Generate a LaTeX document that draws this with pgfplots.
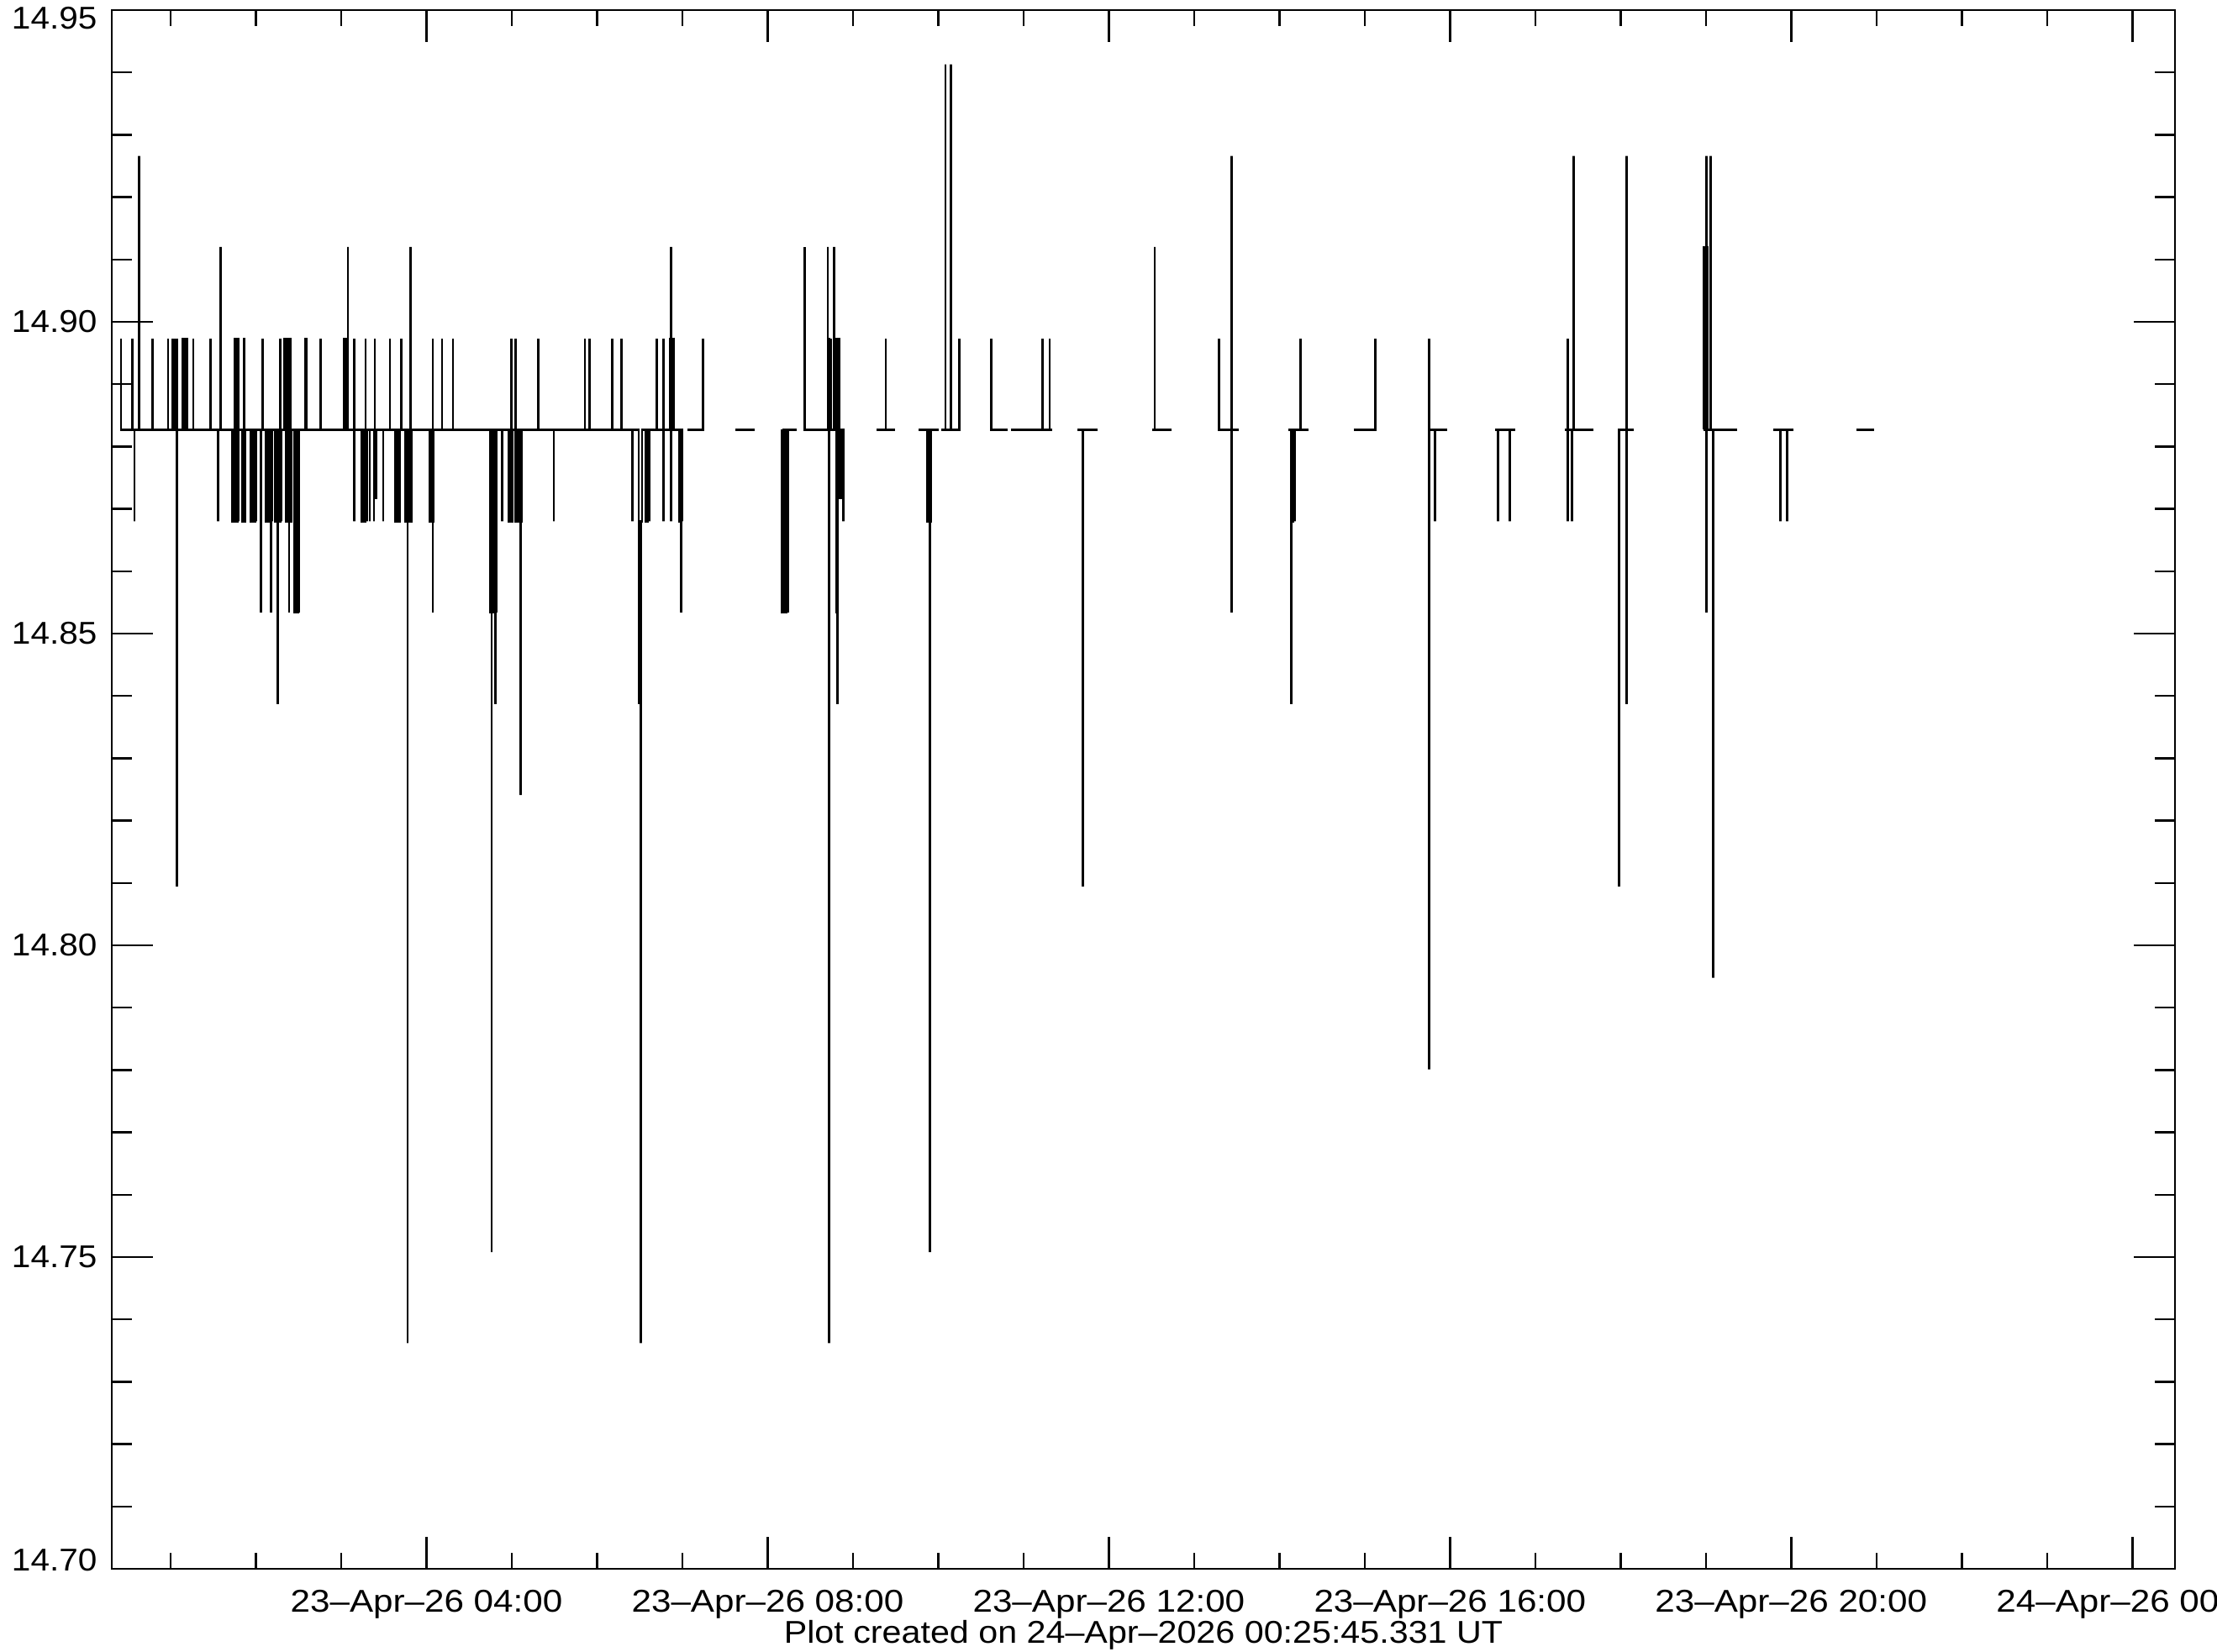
\documentclass[border=0pt]{standalone}
\usepackage{fontspec}
\setmainfont{Liberation Sans}[FakeStretch=1.08, Ligatures=TeX]
\newfontfamily\xlfont{Liberation Sans}[FakeStretch=1.125, Ligatures=TeX]
\usepackage{pgfplots}
\pgfplotsset{compat=1.18}
\usepackage{pgfplotstable}

\pgfplotstableread{
x y
0.418 14.8973
0.418 14.8827
0.549 14.8827
0.549 14.8973
0.549 14.8827
0.575 14.8827
0.575 14.8680
0.575 14.8827
0.631 14.8827
0.631 14.9266
0.631 14.8827
0.789 14.8827
0.789 14.8973
0.789 14.8827
0.970 14.8827
0.970 14.8973
0.970 14.8827
1.019 14.8827
1.019 14.8973
1.019 14.8827
1.042 14.8827
1.042 14.8973
1.042 14.8827
1.075 14.8827
1.075 14.8973
1.075 14.8094
1.075 14.8827
1.144 14.8827
1.144 14.8973
1.160 14.8973
1.160 14.8827
1.175 14.8827
1.175 14.8973
1.190 14.8973
1.190 14.8827
1.265 14.8827
1.265 14.8973
1.265 14.8827
1.469 14.8827
1.469 14.8973
1.469 14.8827
1.554 14.8827
1.554 14.8680
1.554 14.8827
1.584 14.8827
1.584 14.9120
1.584 14.8827
1.725 14.8827
1.725 14.8680
1.741 14.8680
1.741 14.8827
1.751 14.8827
1.751 14.8973
1.766 14.8973
1.766 14.8680
1.781 14.8680
1.781 14.8973
1.797 14.8973
1.797 14.8680
1.797 14.8827
1.840 14.8827
1.840 14.8680
1.856 14.8680
1.856 14.8973
1.863 14.8973
1.863 14.8680
1.873 14.8680
1.873 14.8827
1.939 14.8827
1.939 14.8680
1.955 14.8680
1.955 14.8827
1.971 14.8827
1.971 14.8680
1.988 14.8680
1.988 14.8827
2.004 14.8827
2.004 14.8680
2.004 14.8827
2.060 14.8827
2.060 14.8534
2.060 14.8827
2.077 14.8827
2.077 14.8973
2.077 14.8827
2.119 14.8827
2.119 14.8680
2.135 14.8680
2.135 14.8827
2.150 14.8827
2.150 14.8680
2.165 14.8680
2.165 14.8827
2.179 14.8827
2.179 14.8534
2.179 14.8827
2.192 14.8827
2.192 14.8680
2.192 14.8827
2.225 14.8827
2.225 14.8680
2.241 14.8680
2.241 14.8827
2.257 14.8827
2.257 14.8387
2.257 14.8827
2.270 14.8827
2.270 14.8680
2.284 14.8680
2.284 14.8973
2.284 14.8827
2.300 14.8827
2.300 14.8680
2.300 14.8827
2.333 14.8827
2.333 14.8973
2.349 14.8973
2.349 14.8827
2.356 14.8827
2.356 14.8680
2.365 14.8680
2.365 14.8973
2.380 14.8973
2.380 14.8680
2.389 14.8680
2.389 14.8534
2.389 14.8827
2.398 14.8827
2.398 14.8973
2.405 14.8973
2.405 14.8680
2.415 14.8680
2.415 14.8827
2.448 14.8827
2.448 14.8534
2.463 14.8534
2.463 14.8827
2.478 14.8827
2.478 14.8534
2.493 14.8534
2.493 14.8827
2.507 14.8827
2.507 14.8534
2.507 14.8827
2.575 14.8827
2.575 14.8973
2.595 14.8973
2.595 14.8827
2.760 14.8827
2.760 14.8973
2.760 14.8827
3.035 14.8827
3.035 14.8973
3.055 14.8973
3.055 14.8827
3.079 14.8827
3.079 14.9120
3.079 14.8827
3.154 14.8827
3.154 14.8973
3.154 14.8680
3.154 14.8827
3.236 14.8827
3.236 14.8680
3.252 14.8680
3.252 14.8827
3.268 14.8827
3.268 14.8680
3.286 14.8680
3.286 14.8973
3.286 14.8827
3.302 14.8827
3.302 14.8680
3.302 14.8827
3.335 14.8827
3.335 14.8680
3.335 14.8827
3.384 14.8827
3.384 14.8680
3.384 14.8827
3.394 14.8827
3.394 14.8973
3.394 14.8717
3.410 14.8717
3.410 14.8827
3.493 14.8827
3.493 14.8680
3.493 14.8827
3.571 14.8827
3.571 14.8973
3.571 14.8827
3.637 14.8827
3.637 14.8680
3.655 14.8680
3.655 14.8827
3.672 14.8827
3.672 14.8680
3.690 14.8680
3.690 14.8827
3.706 14.8827
3.706 14.8973
3.706 14.8827
3.755 14.8827
3.755 14.8680
3.770 14.8680
3.770 14.8827
3.778 14.8827
3.778 14.7362
3.778 14.8680
3.793 14.8680
3.793 14.8827
3.811 14.8827
3.811 14.9120
3.811 14.8680
3.828 14.8680
3.828 14.8827
4.041 14.8827
4.041 14.8680
4.058 14.8680
4.058 14.8827
4.074 14.8827
4.074 14.8973
4.074 14.8534
4.074 14.8680
4.084 14.8680
4.084 14.8827
4.182 14.8827
4.182 14.8973
4.182 14.8827
4.310 14.8827
4.310 14.8973
4.310 14.8827
4.747 14.8827
4.747 14.8534
4.764 14.8534
4.764 14.7508
4.764 14.8827
4.780 14.8827
4.780 14.8534
4.795 14.8534
4.795 14.8827
4.807 14.8827
4.807 14.8387
4.807 14.8827
4.820 14.8827
4.820 14.8534
4.820 14.8827
4.889 14.8827
4.889 14.8680
4.889 14.8827
4.961 14.8827
4.961 14.8680
4.977 14.8680
4.977 14.8827
4.994 14.8827
4.994 14.8973
4.994 14.8680
5.010 14.8680
5.010 14.8827
5.043 14.8827
5.043 14.8973
5.043 14.8680
5.060 14.8680
5.060 14.8827
5.077 14.8827
5.077 14.8680
5.093 14.8680
5.093 14.8827
5.102 14.8827
5.102 14.8241
5.102 14.8680
5.115 14.8680
5.115 14.8827
5.312 14.8827
5.312 14.8973
5.312 14.8827
5.493 14.8827
5.493 14.8680
5.493 14.8827
5.858 14.8827
5.858 14.8973
5.858 14.8827
5.914 14.8827
5.914 14.8973
5.914 14.8827
6.176 14.8827
6.176 14.8973
6.176 14.8827
6.285 14.8827
6.285 14.8973
6.285 14.8827
6.416 14.8827
6.416 14.8680
6.416 14.8827
6.488 14.8827
6.488 14.8680
6.495 14.8680
6.495 14.8387
6.495 14.8680
6.515 14.8680
6.515 14.7362
6.515 14.8680
6.528 14.8680
6.528 14.8827
6.570 14.8827
6.570 14.8680
6.590 14.8680
6.590 14.8827
6.610 14.8827
6.610 14.8680
6.610 14.8827
6.702 14.8827
6.702 14.8973
6.702 14.8827
6.777 14.8827
6.777 14.8973
6.777 14.8680
6.777 14.8827
6.856 14.8827
6.856 14.8973
6.866 14.8973
6.866 14.9120
6.866 14.8680
6.866 14.8827
6.882 14.8827
6.882 14.8973
6.899 14.8973
6.899 14.8827
6.965 14.8827
6.965 14.8680
6.980 14.8680
6.980 14.8827
6.988 14.8827
6.988 14.8534
6.988 14.8827
6.998 14.8827
6.998 14.8680
6.998 14.8827
7.014 14.8827
nan nan
7.057 14.8827
7.244 14.8827
7.244 14.8973
nan nan
7.622 14.8827
7.852 14.8827
nan nan
8.170 14.8827
8.170 14.8534
8.186 14.8534
8.186 14.8827
8.203 14.8827
8.203 14.8534
8.220 14.8534
8.220 14.8827
8.236 14.8827
8.236 14.8534
8.236 14.8827
8.344 14.8827
nan nan
8.433 14.9120
8.433 14.8827
8.706 14.8827
8.706 14.9120
8.706 14.8973
8.722 14.8973
8.722 14.7362
8.722 14.8827
8.739 14.8827
8.739 14.8973
8.739 14.8827
8.778 14.8827
8.778 14.9120
8.778 14.8827
8.788 14.8827
8.788 14.8973
8.804 14.8973
8.804 14.8534
8.821 14.8534
8.821 14.8387
8.821 14.8973
8.837 14.8973
8.837 14.8717
8.853 14.8717
8.853 14.8827
8.870 14.8827
8.870 14.8717
8.886 14.8717
8.886 14.8680
8.886 14.8827
8.903 14.8827
nan nan
9.274 14.8827
9.386 14.8827
9.386 14.8973
9.386 14.8827
9.494 14.8827
nan nan
9.773 14.8827
9.872 14.8827
9.872 14.8680
9.890 14.8680
9.890 14.8827
9.905 14.8827
9.905 14.7508
9.905 14.8680
9.911 14.8680
9.911 14.8827
10.003 14.8827
nan nan
10.036 14.8827
10.085 14.8827
10.085 14.9413
10.085 14.8827
10.151 14.8827
10.151 14.9413
10.151 14.8827
10.250 14.8827
10.250 14.8973
10.250 14.8827
10.259 14.8827
nan nan
10.621 14.8973
10.621 14.8827
10.818 14.8827
nan nan
10.851 14.8827
11.225 14.8827
11.225 14.8973
11.225 14.8827
11.307 14.8827
11.307 14.8973
11.307 14.8827
11.334 14.8827
nan nan
11.636 14.8827
11.695 14.8827
11.695 14.8094
11.695 14.8827
11.869 14.8827
nan nan
12.506 14.8827
12.539 14.8827
12.539 14.9120
12.539 14.8827
12.730 14.8827
nan nan
13.295 14.8973
13.295 14.8827
13.436 14.8827
13.436 14.9266
13.436 14.8534
13.436 14.8827
13.525 14.8827
nan nan
14.109 14.8827
14.142 14.8827
14.142 14.8387
14.142 14.8680
14.158 14.8680
14.158 14.8827
14.175 14.8827
14.175 14.8680
14.175 14.8827
14.250 14.8827
14.250 14.8973
14.250 14.8827
14.339 14.8827
nan nan
14.871 14.8827
15.121 14.8827
15.121 14.8973
nan nan
15.752 14.8973
15.752 14.7801
15.752 14.8827
15.824 14.8827
15.824 14.8680
15.824 14.8827
15.965 14.8827
nan nan
16.533 14.8827
16.566 14.8827
16.566 14.8680
16.566 14.8827
16.698 14.8827
16.698 14.8680
16.698 14.8827
16.763 14.8827
nan nan
17.345 14.8827
17.378 14.8827
17.378 14.8973
17.378 14.8680
17.378 14.8827
17.427 14.8827
17.427 14.8680
17.427 14.8827
17.453 14.8827
17.453 14.9266
17.453 14.8827
17.683 14.8827
nan nan
17.979 14.8827
17.985 14.8827
17.985 14.8094
17.985 14.8827
18.068 14.8827
18.068 14.9266
18.068 14.8387
18.068 14.8827
18.156 14.8827
nan nan
18.971 14.8827
18.971 14.9120
18.987 14.9120
18.987 14.8827
19.004 14.8827
19.004 14.9266
19.004 14.8534
19.004 14.9120
19.020 14.9120
19.020 14.8827
19.053 14.8827
19.053 14.9266
19.053 14.8827
19.086 14.8827
19.086 14.7948
19.086 14.8827
19.365 14.8827
nan nan
19.792 14.8827
19.874 14.8827
19.874 14.8680
19.874 14.8827
19.950 14.8827
19.950 14.8680
19.950 14.8827
20.022 14.8827
nan nan
20.761 14.8827
20.968 14.8827
}\data

\begin{document}
\begin{tikzpicture}
\path[use as bounding box] (-26.6pt,-19.8pt) rectangle (501pt,373.4pt);
\pgfplotsset{
  common/.style={
    at={(0,0)}, anchor=south west, scale only axis,
    width=491pt, height=371pt,
    xmin=0.31, xmax=24.5, ymin=14.70, ymax=14.95,
    axis line style={line width=0.5pt, black},
    tick style={black, line width=0.5pt},
    tick align=inside,
    tick label style={font=\fontsize{7.5}{9}\selectfont, text=black},
  }
}
% x ticks, data, and bottom caption
\begin{axis}[common,
  xtick={4,8,12,16,20,24},
  xticklabels={23--Apr--26 04:00, 23--Apr--26 08:00, 23--Apr--26 12:00, 23--Apr--26 16:00, 23--Apr--26 20:00, 24--Apr--26 00:00},
  minor xtick={1,2,3,5,6,7,9,10,11,13,14,15,17,18,19,21,22,23},
  ytick=\empty,
  major tick length=7.6pt, minor tick length=3.8pt,
  xticklabel style={anchor=base, yshift=-10.4pt, font=\xlfont\fontsize{7.5}{9}\selectfont},
  xlabel={Plot created on 24--Apr--2026 00:25:45.331 UT},
  xlabel style={at={(axis description cs:0.5,0)}, anchor=base, yshift=-17.8pt, font=\fontsize{7.5}{9}\selectfont\addfontfeatures{FakeStretch=1.1}},
  unbounded coords=jump,
]
\addplot[black, line width=0.55pt, mark=none] table[x=x, y=y] {\data};
\end{axis}
% y ticks with the middle labels
\begin{axis}[common,
  xtick=\empty,
  ytick={14.70,14.75,14.80,14.85,14.90,14.95},
  yticklabels={,14.75,14.80,14.85,14.90,},
  minor y tick num=4,
  major tick length=9.8pt, minor tick length=4.9pt,
]
\end{axis}
% top y label, set slightly inward
\begin{axis}[common,
  xtick=\empty,
  ytick={14.95},
  yticklabels={14.95},
  major tick length=9.8pt,
  yticklabel style={yshift=-2pt},
]
\end{axis}
% bottom y label, set slightly inward
\begin{axis}[common,
  xtick=\empty,
  ytick={14.70},
  yticklabels={14.70},
  major tick length=9.8pt,
  yticklabel style={yshift=2pt},
]
\end{axis}
\end{tikzpicture}
\end{document}
